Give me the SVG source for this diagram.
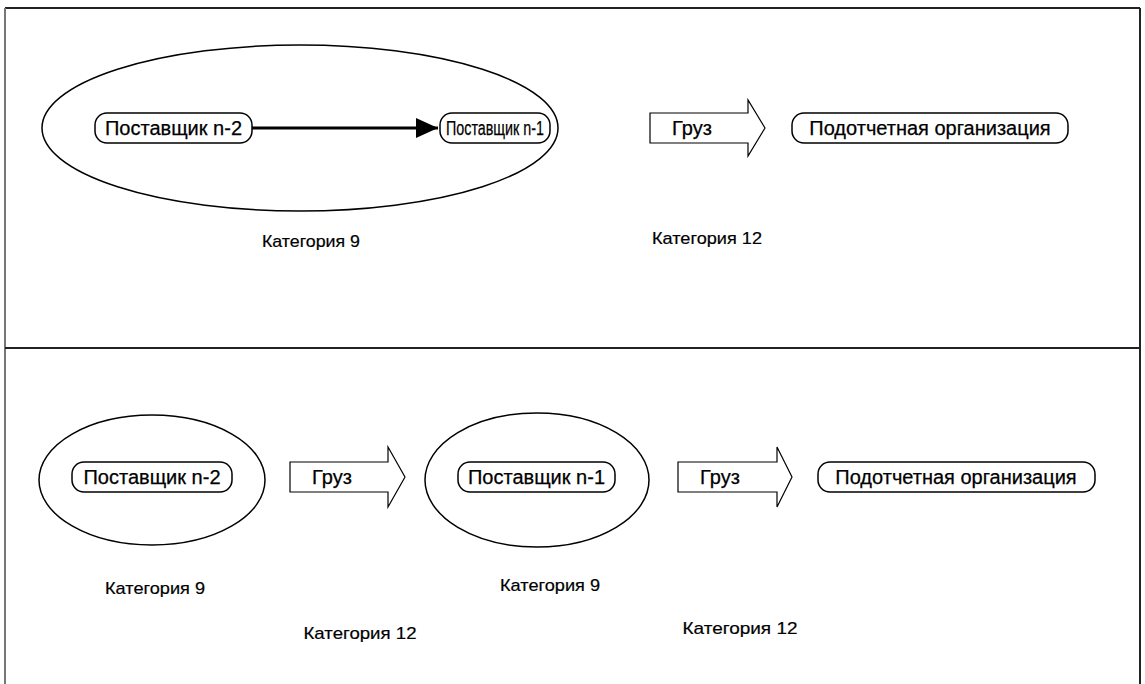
<svg xmlns="http://www.w3.org/2000/svg" width="1145" height="684" viewBox="0 0 1145 684">
<defs>
<style>
.frame{stroke:#222;stroke-width:2;fill:none}
.frameL{stroke:#777;stroke-width:2;fill:none}
.ell{fill:none;stroke:#000;stroke-width:1.5}
.box{fill:#fff;stroke:#000;stroke-width:1.5}
.bt{font-family:"Liberation Sans",Arial,sans-serif;font-size:20px;fill:#000;stroke:#000;stroke-width:0.25;text-anchor:middle}
.lbl{font-family:"Liberation Sans",Arial,sans-serif;font-size:17px;fill:#000;stroke:#000;stroke-width:0.2;text-anchor:middle}
.fat{fill:#fff;stroke:#000;stroke-width:1.2}
</style>
<marker id="ah" markerWidth="22" markerHeight="20" refX="22" refY="10" orient="auto" markerUnits="userSpaceOnUse">
<path d="M0,0 L22,10 L0,20 Z" fill="#000"/>
</marker>
</defs>
<rect width="1145" height="684" fill="#fff"/>
<g id="frame">
<line class="frame" x1="5" y1="8" x2="1140" y2="8"/>
<line class="frameL" x1="5" y1="8" x2="5" y2="684"/>
<line class="frame" x1="1140" y1="8" x2="1140" y2="684"/>
<line class="frame" x1="5" y1="348" x2="1140" y2="348"/>
</g>
<g id="connectors">
<line x1="252" y1="128" x2="438" y2="128" stroke="#000" stroke-width="3" marker-end="url(#ah)"/>
</g>
<g id="top-group">
<ellipse class="ell" cx="300" cy="128" rx="258" ry="83"/>
</g>
<g id="top-n2">
<rect class="box" x="95" y="113" width="157" height="30" rx="12"/>
<text class="bt" x="173.5" y="135">Поставщик n-2</text>
</g>
<g id="top-n1">
<rect class="box" x="440" y="113" width="110" height="30" rx="12"/>
<text class="bt" x="495" y="135" font-size="19" textLength="98" lengthAdjust="spacingAndGlyphs">Поставщик n-1</text>
</g>
<g id="top-cargo">
<polygon class="fat" points="650,113 748,113 748,100 765,128 748,156 748,143 650,143"/>
<text class="bt" x="692" y="135">Груз</text>
</g>
<g id="top-org">
<rect class="box" x="792" y="113" width="276" height="30" rx="12"/>
<text class="bt" x="930" y="135">Подотчетная организация</text>
</g>
<g id="top-labels">
<text class="lbl" x="311" y="247" textLength="98" lengthAdjust="spacingAndGlyphs">Категория 9</text>
<text class="lbl" x="707" y="244" textLength="110" lengthAdjust="spacingAndGlyphs">Категория 12</text>
</g>
<g id="bot-group1">
<ellipse class="ell" cx="152" cy="480" rx="113" ry="65"/>
</g>
<g id="bot-n2">
<rect class="box" x="72" y="462" width="160" height="30" rx="12"/>
<text class="bt" x="152" y="484">Поставщик n-2</text>
</g>
<g id="bot-cargo1">
<polygon class="fat" points="290,462 388,462 388,447 405,477 388,507 388,492 290,492"/>
<text class="bt" x="332" y="484">Груз</text>
</g>
<g id="bot-group2">
<ellipse class="ell" cx="537" cy="480" rx="112" ry="67"/>
</g>
<g id="bot-n1">
<rect class="box" x="458" y="462" width="157" height="30" rx="12"/>
<text class="bt" x="536.5" y="484">Поставщик n-1</text>
</g>
<g id="bot-cargo2">
<polygon class="fat" points="678,462 777,462 777,447 792,477 777,507 777,492 678,492"/>
<text class="bt" x="720" y="484">Груз</text>
</g>
<g id="bot-org">
<rect class="box" x="818" y="462" width="277" height="30" rx="12"/>
<text class="bt" x="956" y="484">Подотчетная организация</text>
</g>
<g id="bot-labels">
<text class="lbl" x="155" y="594" textLength="100" lengthAdjust="spacingAndGlyphs">Категория 9</text>
<text class="lbl" x="360" y="639" textLength="113" lengthAdjust="spacingAndGlyphs">Категория 12</text>
<text class="lbl" x="550" y="591" textLength="100" lengthAdjust="spacingAndGlyphs">Категория 9</text>
<text class="lbl" x="740" y="634" textLength="115" lengthAdjust="spacingAndGlyphs">Категория 12</text>
</g>
</svg>
